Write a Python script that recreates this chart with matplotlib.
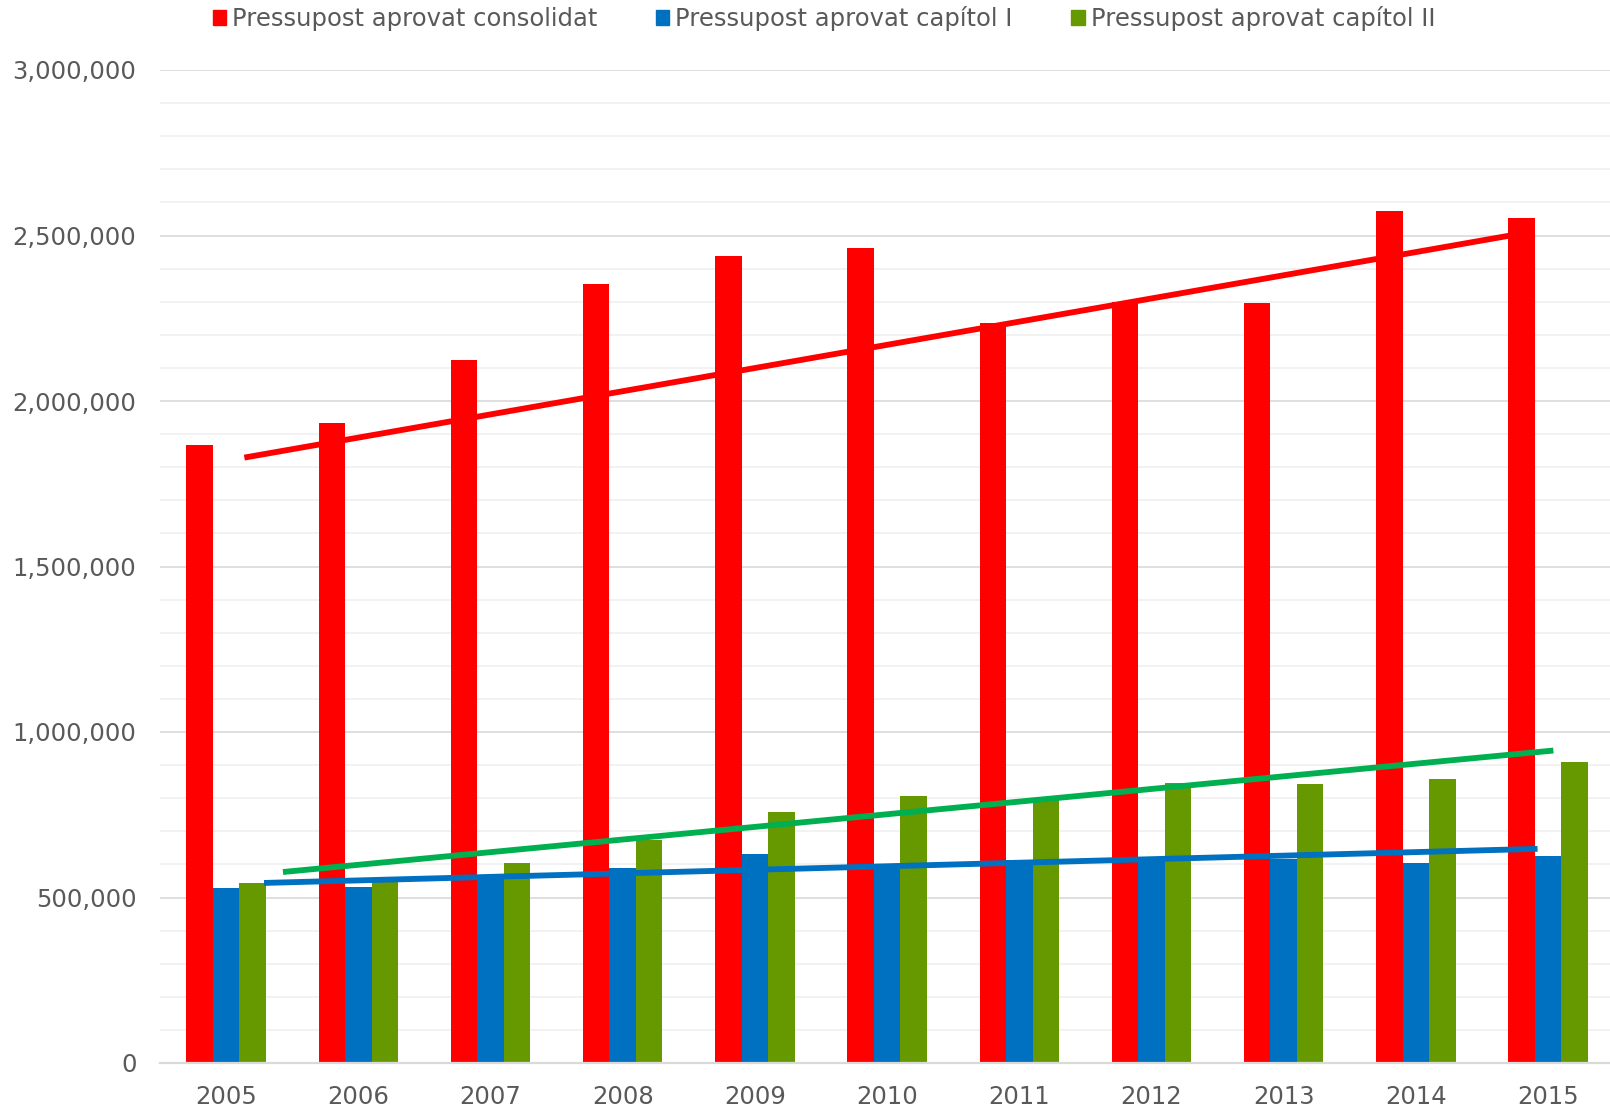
import matplotlib
matplotlib.use("Agg")
import matplotlib.pyplot as plt
import numpy as np
from matplotlib.patches import Patch
from matplotlib.ticker import MultipleLocator, FuncFormatter

years = ["2005", "2006", "2007", "2008", "2009", "2010", "2011", "2012", "2013", "2014", "2015"]
consolidat = [1867000, 1934000, 2123000, 2352000, 2438000, 2461000, 2235000, 2300000, 2296000, 2575000, 2552000]
capitol_1 = [529000, 533000, 568000, 589000, 630000, 600000, 612000, 616000, 615000, 604000, 624000]
capitol_2 = [545000, 553000, 605000, 675000, 759000, 806000, 798000, 845000, 844000, 857000, 909000]

# linear trend lines (value at first and last point)
trend_consolidat = [1829000, 2499000]
trend_capitol_1 = [544000, 647000]
trend_capitol_2 = [577000, 944000]

labels = ["Pressupost aprovat consolidat", "Pressupost aprovat capítol I", "Pressupost aprovat capítol II"]

RED = "#FF0000"
BLUE = "#0070C0"
GREEN = "#669900"
GREEN_TREND = "#00B050"
TXT = "#595959"

plt.rcParams["font.family"] = ["DejaVu Sans"]

fig = plt.figure(figsize=(16.1, 11.11), dpi=100)
ax = fig.add_axes([160 / 1610, 1 - 1063 / 1111, 1450 / 1610, (1063 - 70) / 1111])

x = np.arange(len(years))
w = 0.2
ax.bar(x - w, consolidat, w, color=RED, zorder=2)
ax.bar(x, capitol_1, w, color=BLUE, zorder=2)
ax.bar(x + w, capitol_2, w, color=GREEN, zorder=2)

# trend lines, each starting a bit to the right of its first bar
ax.plot([0.138, 9.70], trend_consolidat, color=RED, lw=4.2, zorder=3, solid_capstyle="butt")
ax.plot([0.287, 9.92], trend_capitol_1, color=BLUE, lw=4.2, zorder=3, solid_capstyle="butt")
ax.plot([0.43, 10.04], trend_capitol_2, color=GREEN_TREND, lw=4.2, zorder=3, solid_capstyle="butt")

ax.set_xlim(-0.5, -0.5 + 1450 / 132.2)
ax.set_ylim(0, 3000000)
ax.set_xticks(x)
ax.set_xticklabels(years)
ax.yaxis.set_major_locator(MultipleLocator(500000))
ax.yaxis.set_minor_locator(MultipleLocator(100000))
ax.yaxis.set_major_formatter(FuncFormatter(lambda v, p: f"{int(v):,}"))

ax.grid(axis="y", which="major", color="#d9d9d9", lw=1.2, zorder=0)
ax.grid(axis="y", which="minor", color="#f0f0f0", lw=1.2, zorder=0)
ax.set_axisbelow(True)

for s in ["top", "right", "left"]:
    ax.spines[s].set_visible(False)
ax.spines["bottom"].set_color("#d9d9d9")
ax.spines["bottom"].set_linewidth(1.6)

ax.tick_params(axis="both", which="both", length=0, labelsize=17.5, labelcolor=TXT)
ax.tick_params(axis="y", pad=17)
ax.tick_params(axis="x", pad=16)

handles = [Patch(color=c) for c in (RED, BLUE, GREEN)]
fig.legend(handles, labels, loc="center", bbox_to_anchor=(824 / 1610, 1 - 18.5 / 1111),
           ncol=3, frameon=False, fontsize=17.5, labelcolor=TXT,
           handlelength=0.55, handleheight=0.55, handletextpad=0.25, columnspacing=2.4)

fig.savefig("out.png", dpi=100)
